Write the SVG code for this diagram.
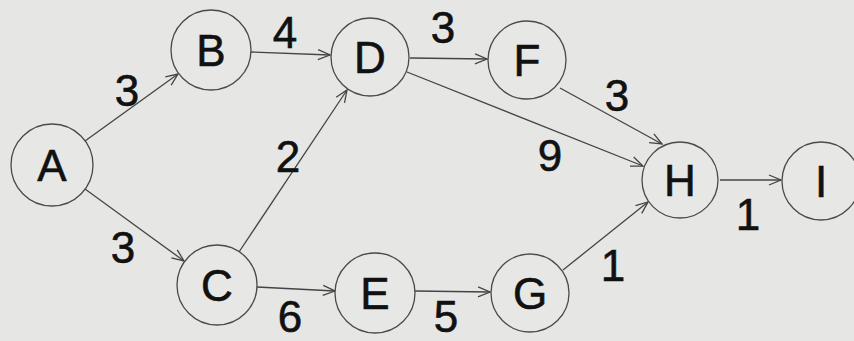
<svg xmlns="http://www.w3.org/2000/svg" width="854" height="341" viewBox="0 0 854 341">
<style>
.node{fill:#e7e7e5;stroke:#4a4a4a;stroke-width:1.3}
.lbl{font-family:"Liberation Sans",Arial,sans-serif;font-size:44px;fill:#111;stroke:#111;stroke-width:0.6;text-anchor:middle}
.edge{stroke:#444;stroke-width:1.3;fill:none;marker-end:url(#arr)}
.w{font-family:"Liberation Sans",Arial,sans-serif;font-size:44px;fill:#111;stroke:#111;stroke-width:0.6;text-anchor:middle}
</style>
<defs>
<marker id="arr" viewBox="-14 -7 16 14" refX="0" refY="0" markerWidth="16" markerHeight="14" markerUnits="userSpaceOnUse" orient="auto">
<path d="M-12,-5 L0,0 L-12,5" fill="none" stroke="#444" stroke-width="1.3"/>
</marker>
</defs>
<rect width="854" height="341" fill="#e6e6e4"/>
<g id="connectors">
<line class="edge" x1="85" y1="141" x2="178" y2="74"/>
<line class="edge" x1="85" y1="189" x2="184" y2="261"/>
<line class="edge" x1="251" y1="52" x2="330" y2="55"/>
<line class="edge" x1="239" y1="252" x2="347" y2="90"/>
<line class="edge" x1="257" y1="287" x2="335" y2="291"/>
<line class="edge" x1="410" y1="58" x2="487" y2="59"/>
<line class="edge" x1="407" y1="72" x2="643" y2="166"/>
<line class="edge" x1="560" y1="88" x2="662" y2="144"/>
<line class="edge" x1="415" y1="291" x2="490" y2="292"/>
<line class="edge" x1="563" y1="270" x2="648" y2="202"/>
<line class="edge" x1="720" y1="180" x2="781" y2="180"/>
</g>
<g id="weights">
<text class="w" x="127" y="106">3</text>
<text class="w" x="123" y="263">3</text>
<text class="w" x="285" y="48">4</text>
<text class="w" x="288" y="172">2</text>
<text class="w" x="290" y="332">6</text>
<text class="w" x="443" y="43">3</text>
<text class="w" x="617" y="111">3</text>
<text class="w" x="550" y="171">9</text>
<text class="w" x="748" y="230">1</text>
<text class="w" x="613" y="281">1</text>
<text class="w" x="446" y="332">5</text>
</g>
<g id="A"><circle class="node" cx="52" cy="165" r="41"/><text class="lbl" x="52" y="181">A</text></g>
<g id="B"><circle class="node" cx="211" cy="50" r="40"/><text class="lbl" x="211" y="66">B</text></g>
<g id="C"><circle class="node" cx="217" cy="285" r="40"/><text class="lbl" x="217" y="301">C</text></g>
<g id="D"><circle class="node" cx="370" cy="57" r="39"/><text class="lbl" x="370" y="73">D</text></g>
<g id="E"><circle class="node" cx="375" cy="293" r="40"/><text class="lbl" x="375" y="309">E</text></g>
<g id="F"><circle class="node" cx="527" cy="60" r="39"/><text class="lbl" x="527" y="76">F</text></g>
<g id="G"><circle class="node" cx="530" cy="293" r="39"/><text class="lbl" x="530" y="309">G</text></g>
<g id="H"><circle class="node" cx="680" cy="180" r="38"/><text class="lbl" x="680" y="196">H</text></g>
<g id="I"><circle class="node" cx="821" cy="181" r="39"/><text class="lbl" x="821" y="197">I</text></g>
</svg>
